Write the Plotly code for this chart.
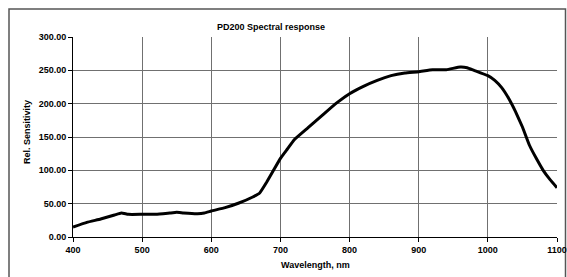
import plotly.graph_objects as go

wavelength = [400, 420, 440, 460, 470, 480, 500, 520, 540, 550, 560, 580, 590, 600,
              620, 640, 660, 670, 680, 690, 700, 710, 720, 740, 760, 780, 800, 820,
              840, 860, 880, 900, 920, 940, 960, 970, 980, 1000, 1010, 1020, 1030,
              1040, 1050, 1060, 1070, 1080, 1090, 1100]
sensitivity = [15, 22, 27, 33, 36, 34, 34, 34, 36, 37, 36, 35, 36, 39,
               44, 51, 60, 66, 82, 100, 118, 132, 146, 164, 182, 200, 215, 226,
               235, 242, 246, 248, 251, 251, 255, 254, 250, 242, 235, 224, 208,
               188, 165, 138, 118, 100, 86, 74]

x_ticks = [400, 500, 600, 700, 800, 900, 1000, 1100]
y_ticks = [0, 50, 100, 150, 200, 250, 300]
x_grid = [500, 600, 700, 800, 900, 1000]
y_grid = [50, 100, 150, 200, 250]

chart_title = "PD200 Spectral response"
x_title = "Wavelength, nm"
y_title = "Rel. Sensitivity"

FONT = "Liberation Sans, Arial, sans-serif"

fig = go.Figure()
fig.add_trace(go.Scatter(x=wavelength, y=sensitivity, mode="lines",
                         line=dict(color="black", width=3, shape="spline", smoothing=0.3),
                         hoverinfo="skip", showlegend=False))

fig.update_layout(
    width=567, height=277,
    margin=dict(l=73, r=10, t=37, b=40, autoexpand=False),
    paper_bgcolor="white", plot_bgcolor="white",
    font=dict(family=FONT, size=9, color="black", weight="bold"),
    showlegend=False,
)
grid_style = dict(showgrid=True, gridcolor="#707070", gridwidth=1, ticks="")
fig.update_xaxes(range=[400, 1100], tickvals=x_ticks, ticktext=[str(v) for v in x_ticks],
                 showline=True, linecolor="black", linewidth=1,
                 ticks="outside", ticklen=4, tickcolor="black",
                 showgrid=False, zeroline=False, automargin=False,
                 minor=dict(tickvals=x_grid, **grid_style),
                 tickfont=dict(family=FONT, size=9, weight="bold"))
fig.update_yaxes(range=[0, 300], tickvals=y_ticks, tickformat=".2f",
                 showline=True, linecolor="black", linewidth=1,
                 ticks="outside", ticklen=4, tickcolor="black",
                 showgrid=False, zeroline=False, automargin=False,
                 minor=dict(tickvals=y_grid, **grid_style),
                 tickfont=dict(family=FONT, size=9, weight="bold"))

# outer chart border (page coords: plot area x 73..557, y 37..237)
fig.add_shape(type="rect", xref="paper", yref="paper",
              x0=(9 - 73) / 484, x1=(565.5 - 73) / 484, y0=-0.5, y1=(237 - 9) / 200,
              line=dict(color="#555555", width=1.5), fillcolor="rgba(0,0,0,0)", layer="below")

fig.add_annotation(text=chart_title, xref="paper", yref="paper",
                   x=(271 - 73) / 484, y=(237 - 27) / 200, showarrow=False,
                   xanchor="center", yanchor="middle",
                   font=dict(family=FONT, size=9, weight="bold"))
fig.add_annotation(text=x_title, xref="paper", yref="paper",
                   x=(315 - 73) / 484, y=(237 - 265) / 200, showarrow=False,
                   xanchor="center", yanchor="middle",
                   font=dict(family=FONT, size=9, weight="bold"))
fig.add_annotation(text=y_title, xref="paper", yref="paper",
                   x=(27 - 73) / 484, y=(237 - 132) / 200, showarrow=False,
                   xanchor="center", yanchor="middle", textangle=-90,
                   font=dict(family=FONT, size=9, weight="bold"))

fig.write_html("out.html", config={"displayModeBar": False},
               post_script="document.body.style.margin='0';document.body.style.overflow='hidden';")
